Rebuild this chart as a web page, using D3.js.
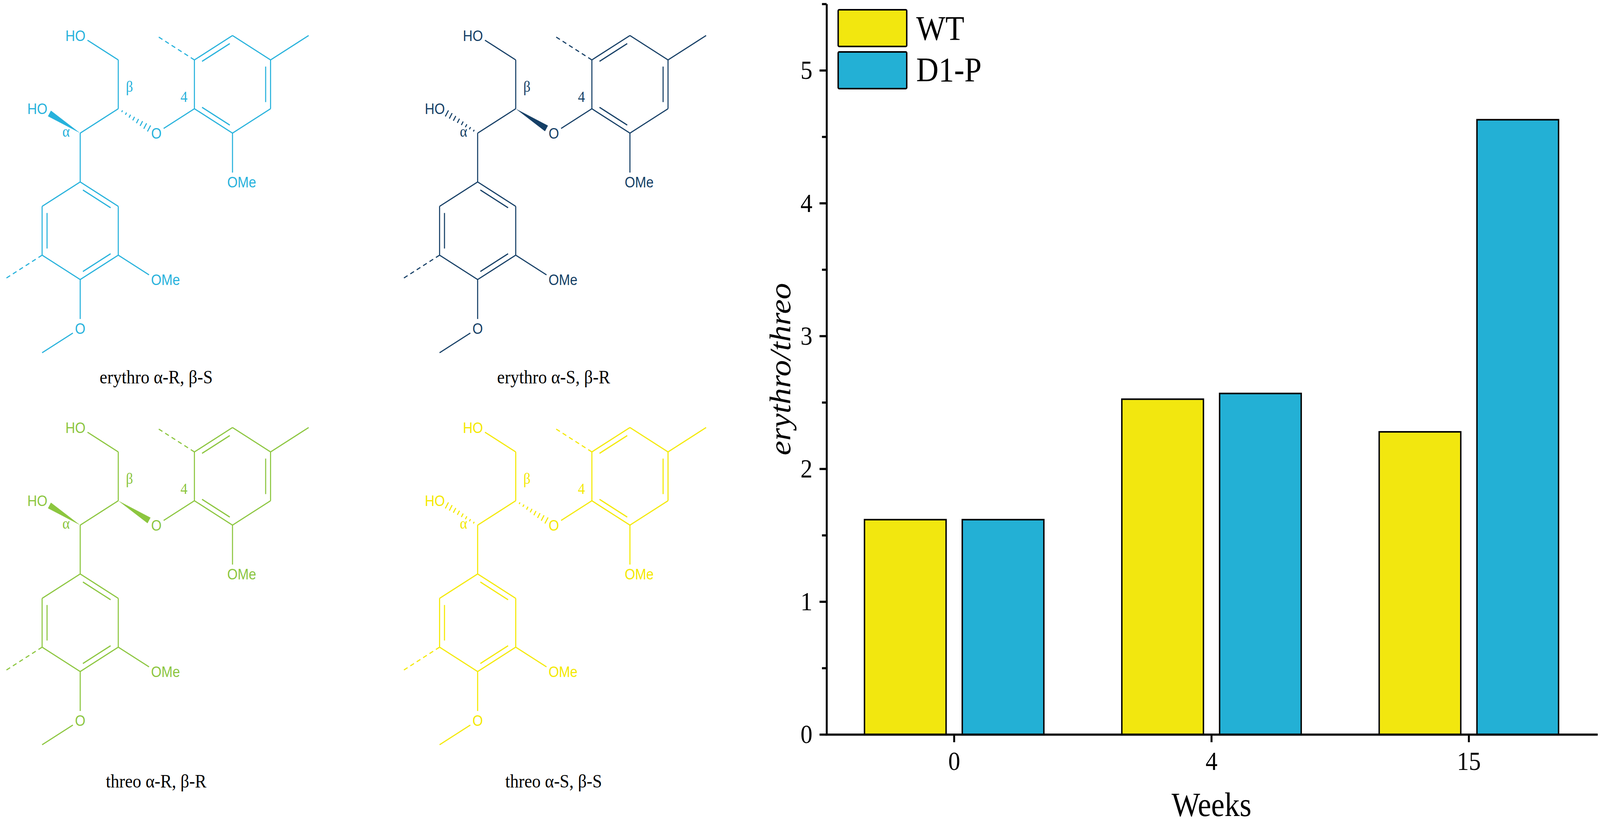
<!DOCTYPE html>
<html>
<head>
<meta charset="utf-8">
<script src="https://cdn.jsdelivr.net/npm/d3@7"></script>
<style>
  html, body { margin: 0; padding: 0; width: 100%; height: 100%; overflow: hidden; background: #fff; }
  #wrapper { width: 100vw; height: 100vh; }
  svg { display: block; }
</style>
</head>
<body>
<div id="wrapper"></div>
<script>
// Data
const weeks = ['0', '4', '15'];
const series = ['WT', 'D1-P'];
const wtRatio = [1.617, 2.524, 2.278];
const d1pRatio = [1.617, 2.567, 4.628];
const yTicks = [0, 1, 2, 3, 4, 5];
const yMinorTicks = [0.5, 1.5, 2.5, 3.5, 4.5, 5.5];

const isomerNames = ['erythro α-R, β-S', 'erythro α-S, β-R', 'threo α-R, β-R', 'threo α-S, β-S'];
const alphaBonds = ['wedge', 'hash', 'wedge', 'hash'];
const betaBonds = ['hash', 'wedge', 'wedge', 'hash'];

// Styles / layout
const seriesColors = ['#f2e70f', '#23b0d5'];
const isomerColors = ['#27b2dc', '#153f66', '#8cc63f', '#f4e900'];
const serif = "'Liberation Serif', 'Times New Roman', serif";
const sans = "'Liberation Sans', Arial, sans-serif";

const width = 4549;
const height = 2113;

// drawn in the reference's pixel frame, stretched to fill the window
const svg = d3
  .select('#wrapper')
  .append('svg')
  .attr('viewBox', `0 0 ${width} ${height}`)
  .attr('preserveAspectRatio', 'none')
  .attr('width', '100%')
  .attr('height', '100%')
  .style('background', '#fff');

// ---------- Bar chart ----------
const plot = { left: 2347, right: 4542, top: 10, bottom: 1881, axisX: 2350 };
const groupWidth = 510;

const x0 = d3.scaleBand().domain(weeks).range([plot.left, plot.right]);
const x1 = d3.scaleBand().domain(series).range([0, groupWidth]).paddingInner(0.1655);
const y = d3.scaleLinear().domain([0, 5.5]).range([plot.bottom, plot.top]);

const rows = weeks.map((w, i) => ({ week: w, values: [wtRatio[i], d1pRatio[i]] }));

const groups = svg
  .append('g')
  .selectAll('g')
  .data(rows)
  .join('g')
  .attr('transform', (d) => `translate(${x0(d.week) + (x0.bandwidth() - groupWidth) / 2},0)`);

groups
  .selectAll('rect')
  .data((d) => d.values.map((v, j) => ({ key: series[j], value: v })))
  .join('rect')
  .attr('x', (d) => x1(d.key))
  .attr('y', (d) => y(d.value))
  .attr('width', x1.bandwidth())
  .attr('height', (d) => y(0) - y(d.value))
  .attr('fill', (d) => seriesColors[series.indexOf(d.key)])
  .attr('stroke', '#000')
  .attr('stroke-width', 4);

// Axes
const styleAxis = (g) => {
  g.attr('font-family', serif).attr('font-size', 68);
  g.selectAll('path, line').attr('stroke', '#000').attr('stroke-width', 5.5);
  g.selectAll('text').attr('fill', '#000');
};

svg
  .append('g')
  .attr('transform', `translate(${plot.axisX},0)`)
  .call(d3.axisLeft(y).tickValues(yMinorTicks).tickSize(13).tickSizeOuter(0).tickFormat(''))
  .call(styleAxis)
  .call((g) => g.select('.domain').remove());

svg
  .append('g')
  .attr('transform', `translate(${plot.axisX},0)`)
  .call(
    d3.axisLeft(y).tickValues(yTicks).tickSize(20).tickSizeOuter(0).tickPadding(20).tickFormat(d3.format('d'))
  )
  .call(styleAxis);

svg
  .append('g')
  .attr('transform', `translate(0,${plot.bottom})`)
  .call(d3.axisBottom(x0).tickSize(20).tickSizeOuter(0).tickPadding(23))
  .call(styleAxis);

// Axis labels
svg
  .append('text')
  .attr('transform', `translate(2247,${(plot.top + plot.bottom) / 2}) rotate(-90)`)
  .attr('text-anchor', 'middle')
  .attr('font-family', serif)
  .attr('font-style', 'italic')
  .attr('font-size', 84)
  .text('erythro/threo');

svg
  .append('text')
  .attr('x', x0('4') + x0.bandwidth() / 2)
  .attr('y', 2090)
  .attr('text-anchor', 'middle')
  .attr('font-family', serif)
  .attr('font-size', 86)
  .text('Weeks');

// Legend
const legend = svg.append('g').attr('id', 'legend');
series.forEach((s, i) => {
  legend
    .append('rect')
    .attr('x', 2383)
    .attr('y', 25 + i * 108)
    .attr('width', 195)
    .attr('height', 94)
    .attr('rx', 3)
    .attr('fill', seriesColors[i])
    .attr('stroke', '#000')
    .attr('stroke-width', 4);
  legend
    .append('text')
    .attr('x', 2605)
    .attr('y', 102 + i * 106)
    .attr('font-family', serif)
    .attr('font-size', 88)
    .text(s);
});

// ---------- Structures ----------
const L = 125; // bond length
const mx = d3.scaleLinear().domain([0, 1]).range([0, (L * Math.sqrt(3)) / 2]);
const my = d3.scaleLinear().domain([0, 1]).range([0, L / 2]);

// skeleton in hex-grid units, origin at C-alpha
const atoms = {
  a: [0, 0], b: [1, -1], g: [1, -3], oh1: [0, -4], oh2: [-1, -1], oe: [2, 0],
  r1: [0, 2], r2: [1, 3], r3: [1, 5], r4: [0, 6], r5: [-1, 5], r6: [-1, 3],
  o4: [0, 8], me4: [-1, 9], ome3: [2, 6], d5: [-2, 6],
  s4: [3, -1], s3: [3, -3], s2: [4, -4], s1: [5, -3], s6: [5, -1], s5: [4, 0],
  me1: [6, -4], d3: [2, -4], ome5: [4, 2],
};
const labelled = new Set(['oh1', 'oh2', 'oe', 'o4', 'ome3', 'ome5']);
const singleBonds = [
  ['g', 'oh1'], ['b', 'g'], ['a', 'b'], ['a', 'r1'],
  ['r1', 'r2'], ['r2', 'r3'], ['r3', 'r4'], ['r4', 'r5'], ['r5', 'r6'], ['r6', 'r1'],
  ['r4', 'o4'], ['o4', 'me4'], ['r3', 'ome3'], ['oe', 's4'],
  ['s4', 's3'], ['s3', 's2'], ['s2', 's1'], ['s1', 's6'], ['s6', 's5'], ['s5', 's4'],
  ['s1', 'me1'], ['s5', 'ome5'],
];
const dashedBonds = [['r5', 'd5'], ['s3', 'd3']];
const innerBonds = [
  ['r1', 'r2', [0, 4]], ['r3', 'r4', [0, 4]], ['r5', 'r6', [0, 4]],
  ['s3', 's2', [4, -2]], ['s1', 's6', [4, -2]], ['s4', 's5', [4, -2]],
];
const atomLabels = [
  { atom: 'oh1', text: 'HO', anchor: 'end', dx: 15 },
  { atom: 'oh2', text: 'HO', anchor: 'end', dx: 15 },
  { atom: 'oe', text: 'O', anchor: 'middle', dx: 0 },
  { atom: 'o4', text: 'O', anchor: 'middle', dx: 0 },
  { atom: 'ome3', text: 'OMe', anchor: 'start', dx: -15 },
  { atom: 'ome5', text: 'OMe', anchor: 'start', dx: -15 },
];
const locants = [
  { text: 'β', x: 140, y: -106 },
  { text: '4', x: 295, y: -80 },
  { text: 'α', x: -40, y: 9 },
];

const panelOrigins = [[228, 341], [1358, 341], [228, 1345], [1358, 1345]];
const captionPos = [[444, 982], [1574, 982], [444, 2017], [1574, 2017]];

const pt = (name) => [mx(atoms[name][0]), my(atoms[name][1])];
const toward = (p, q, d) => {
  const len = Math.hypot(q[0] - p[0], q[1] - p[1]);
  return [p[0] + ((q[0] - p[0]) * d) / len, p[1] + ((q[1] - p[1]) * d) / len];
};
const ends = (a, b) => {
  const p = pt(a);
  const q = pt(b);
  return [labelled.has(a) ? toward(p, q, 24) : p, labelled.has(b) ? toward(q, p, 24) : q];
};

function stereoBond(g, from, to, type, color) {
  const [p, q] = ends(from, to);
  const len = Math.hypot(q[0] - p[0], q[1] - p[1]);
  const n = [-(q[1] - p[1]) / len, (q[0] - p[0]) / len];
  if (type === 'wedge') {
    const w = 8.5;
    g.append('path')
      .attr('d', `M${p[0]},${p[1]}L${q[0] + n[0] * w},${q[1] + n[1] * w}L${q[0] - n[0] * w},${q[1] - n[1] * w}Z`)
      .attr('fill', color);
  } else {
    d3.range(1, 9).forEach((i) => {
      const t = i / 8;
      const c = [p[0] + (q[0] - p[0]) * t, p[1] + (q[1] - p[1]) * t];
      const w = 1.5 + 7.5 * t;
      g.append('line')
        .attr('x1', c[0] - n[0] * w).attr('y1', c[1] - n[1] * w)
        .attr('x2', c[0] + n[0] * w).attr('y2', c[1] + n[1] * w)
        .attr('stroke', color)
        .attr('stroke-width', 3);
    });
  }
}

function drawMolecule(i) {
  const color = isomerColors[i];
  const g = svg
    .append('g')
    .attr('transform', `translate(${panelOrigins[i][0]},${panelOrigins[i][1]})`);

  singleBonds.forEach(([a, b]) => {
    const [p, q] = ends(a, b);
    g.append('line')
      .attr('x1', p[0]).attr('y1', p[1]).attr('x2', q[0]).attr('y2', q[1])
      .attr('stroke', color).attr('stroke-width', 3);
  });

  dashedBonds.forEach(([a, b]) => {
    const [p, q] = ends(a, b);
    g.append('line')
      .attr('x1', p[0]).attr('y1', p[1]).attr('x2', q[0]).attr('y2', q[1])
      .attr('stroke', color).attr('stroke-width', 3)
      .attr('stroke-dasharray', '12,9');
  });

  innerBonds.forEach(([a, b, c]) => {
    const p = pt(a);
    const q = pt(b);
    const ctr = [mx(c[0]), my(c[1])];
    const mid = [(p[0] + q[0]) / 2, (p[1] + q[1]) / 2];
    const off = toward(mid, ctr, 14);
    const sh = [off[0] - mid[0], off[1] - mid[1]];
    const p2 = toward(p, q, 17);
    const q2 = toward(q, p, 17);
    g.append('line')
      .attr('x1', p2[0] + sh[0]).attr('y1', p2[1] + sh[1])
      .attr('x2', q2[0] + sh[0]).attr('y2', q2[1] + sh[1])
      .attr('stroke', color).attr('stroke-width', 3);
  });

  stereoBond(g, 'a', 'oh2', alphaBonds[i], color);
  stereoBond(g, 'b', 'oe', betaBonds[i], color);

  atomLabels.forEach((l) => {
    const p = pt(l.atom);
    g.append('text')
      .attr('x', p[0] + l.dx)
      .attr('y', p[1])
      .attr('dy', '0.36em')
      .attr('text-anchor', l.anchor)
      .attr('font-family', sans)
      .attr('font-size', 38)
      .attr('fill', color)
      .text(l.text);
  });

  locants.forEach((l) => {
    g.append('text')
      .attr('x', l.x)
      .attr('y', l.y)
      .attr('text-anchor', 'middle')
      .attr('font-family', serif)
      .attr('font-size', 40)
      .attr('fill', color)
      .text(l.text);
  });

  svg
    .append('text')
    .attr('x', captionPos[i][0])
    .attr('y', captionPos[i][1])
    .attr('text-anchor', 'middle')
    .attr('font-family', serif)
    .attr('font-size', 49)
    .attr('fill', '#000')
    .text(isomerNames[i]);
}

isomerNames.forEach((_, i) => drawMolecule(i));
</script>
</body>
</html>
